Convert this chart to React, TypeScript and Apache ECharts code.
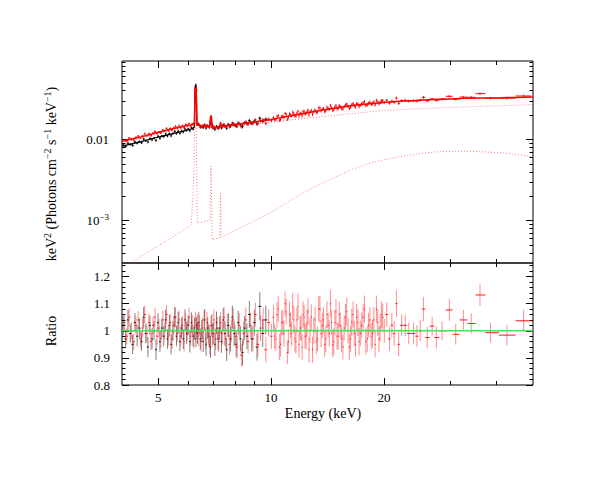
import React, { useEffect, useRef } from 'react';
import * as echarts from 'echarts';

const FONT = 'Liberation Serif';

// ---------- axis ranges & ticks ----------
const energyRange = [4, 50];
const fluxRange = [3e-4, 0.093];
const ratioRange = [0.8, 1.25];

const energyMajorTicks = [5, 10, 20];
const energyMinorTicks = [6, 7, 8, 9, 30, 40];
const energyTickLabels = [5, 10, 20];
const fluxMajorTicks = [0.001, 0.01];
const fluxMinorTicks = [0.0004, 0.0005, 0.0006, 0.0007, 0.0008, 0.0009, 0.002, 0.003, 0.004, 0.005, 0.006, 0.007, 0.008, 0.009, 0.02, 0.03, 0.04, 0.05, 0.06, 0.07, 0.08, 0.09];
const fluxTickLabels = [0.001, 0.01];
const ratioMajorTicks = [0.8, 0.9, 1, 1.1, 1.2];
const ratioMinorTicks = [0.82, 0.84, 0.86, 0.88, 0.92, 0.94, 0.96, 0.98, 1.02, 1.04, 1.06, 1.08, 1.12, 1.14, 1.16, 1.18, 1.22, 1.24];
const ratioTickLabels = [0.8, 0.9, 1, 1.1, 1.2];

// ---------- black spectrum ----------
const blackE = [4.03, 4.09, 4.15, 4.21, 4.27, 4.33, 4.39, 4.45, 4.51, 4.57,
  4.63, 4.69, 4.75, 4.81, 4.87, 4.93, 4.99, 5.05, 5.11, 5.17,
  5.23, 5.29, 5.35, 5.41, 5.47, 5.53, 5.59, 5.65, 5.71, 5.77,
  5.83, 5.89, 5.95, 6.01, 6.07, 6.13, 6.19, 6.25, 6.30, 6.33,
  6.36, 6.41, 6.47, 6.53, 6.59, 6.65, 6.71, 6.77, 6.83, 6.89,
  6.95, 7.01, 7.08, 7.15, 7.22, 7.29, 7.37, 7.45, 7.53, 7.61,
  7.70, 7.79, 7.88, 7.97, 8.07, 8.17, 8.28, 8.39, 8.50, 8.62,
  8.75, 8.88, 9.02, 9.17, 9.33, 9.50, 9.68];
const blackFlux = [0.00854, 0.00825, 0.0090, 0.0087, 0.00848, 0.00934, 0.00903, 0.00945, 0.00912, 0.01013,
  0.00969, 0.00934, 0.01028, 0.00992, 0.01037, 0.00977, 0.01098, 0.01038, 0.01106, 0.01088,
  0.0117, 0.01106, 0.01178, 0.01112, 0.01185, 0.0126, 0.01191, 0.01267, 0.01195, 0.01274,
  0.01238, 0.01344, 0.01294, 0.0135, 0.01284, 0.01395, 0.01343, 0.0160, 0.0475, 0.040,
  0.0155, 0.01545, 0.01426, 0.0146, 0.01402, 0.01518, 0.01387, 0.01475, 0.01431, 0.0165,
  0.0151, 0.01386, 0.01335, 0.01452, 0.01377, 0.01449, 0.01392, 0.01518, 0.01455, 0.01376,
  0.0153, 0.01465, 0.01596, 0.01515, 0.01463, 0.01597, 0.01513, 0.01454, 0.01606, 0.01568,
  0.01707, 0.01581, 0.01689, 0.0156, 0.01831, 0.01673, 0.01778];
const blackRatio = [1.02, 0.97, 1.04, 0.99, 0.95, 1.03, 0.98, 1.01, 0.96, 1.05,
  0.99, 0.94, 1.02, 0.97, 1.00, 0.93, 1.03, 0.96, 1.01, 0.98,
  1.04, 0.97, 1.02, 0.95, 1.00, 1.05, 0.98, 1.03, 0.96, 1.01,
  0.97, 1.04, 0.99, 1.02, 0.96, 1.03, 0.98, 1.01, 0.97, 1.02,
  0.99, 1.03, 0.97, 1.00, 0.96, 1.04, 0.95, 1.01, 0.98, 0.94,
  1.02, 0.99, 0.95, 1.03, 0.97, 1.01, 0.96, 1.04, 0.99, 0.93,
  1.02, 0.97, 1.05, 0.99, 0.95, 1.03, 0.97, 0.92, 1.01, 0.98,
  1.06, 0.97, 1.03, 0.94, 1.09, 0.99, 1.04];
const blackErr = [0.036, 0.035, 0.037, 0.034, 0.036, 0.035, 0.037, 0.036, 0.034, 0.038,
  0.036, 0.037, 0.035, 0.038, 0.036, 0.037, 0.035, 0.038, 0.036, 0.037,
  0.038, 0.036, 0.039, 0.037, 0.036, 0.038, 0.037, 0.039, 0.036, 0.038,
  0.037, 0.039, 0.038, 0.036, 0.040, 0.038, 0.037, 0.039, 0.030, 0.032,
  0.038, 0.040, 0.039, 0.041, 0.038, 0.040, 0.042, 0.039, 0.041, 0.040,
  0.042, 0.040, 0.043, 0.041, 0.042, 0.044, 0.041, 0.043, 0.045, 0.042,
  0.044, 0.046, 0.043, 0.045, 0.047, 0.044, 0.046, 0.048, 0.045, 0.047,
  0.049, 0.046, 0.048, 0.050, 0.052, 0.049, 0.053];

// ---------- red spectrum ----------
const redE = [4.06, 4.12, 4.18, 4.24, 4.30, 4.36, 4.42, 4.48, 4.54, 4.60,
  4.66, 4.72, 4.78, 4.84, 4.90, 4.96, 5.02, 5.08, 5.14, 5.20,
  5.26, 5.32, 5.38, 5.44, 5.50, 5.56, 5.62, 5.68, 5.74, 5.80,
  5.86, 5.92, 5.98, 6.04, 6.10, 6.16, 6.22, 6.28, 6.32, 6.35,
  6.39, 6.44, 6.50, 6.56, 6.62, 6.68, 6.74, 6.80, 6.86, 6.91,
  6.97, 7.04, 7.11, 7.18, 7.25, 7.33, 7.41, 7.49, 7.57, 7.65,
  7.74, 7.83, 7.92, 8.02, 8.12, 8.22, 8.33, 8.44, 8.56, 8.68,
  8.81, 8.94, 9.08, 9.22, 9.37, 9.52, 9.68, 9.85, 10.02,
  10.15, 10.3, 10.45, 10.6, 10.75, 10.9, 11.05, 11.2, 11.35, 11.5,
  11.65, 11.8, 11.95, 12.1, 12.25, 12.4, 12.55, 12.7, 12.9, 13.1,
  13.3, 13.5, 13.7, 13.9, 14.1, 14.3, 14.5, 14.7, 14.9, 15.1,
  15.3, 15.55, 15.8, 16.05, 16.3, 16.55, 16.8, 17.05, 17.3, 17.6,
  17.9, 18.2, 18.5, 18.8, 19.1, 19.4, 19.7,
  20.05, 20.35, 20.7, 21.0, 21.3, 21.6, 21.9, 22.3, 22.8, 23.3,
  24.0, 24.5, 25.0, 25.5, 26.1, 26.9, 27.6, 28.6, 29.9, 31.1,
  32.6, 34.2, 36.1, 38.5, 42.6, 47.2];
const redFlux = [0.00989, 0.00958, 0.01044, 0.0101, 0.00986, 0.01064, 0.01102, 0.01044, 0.01104, 0.01177,
  0.01115, 0.01177, 0.01114, 0.0120, 0.01254, 0.01187, 0.0124, 0.01208, 0.01312, 0.01279,
  0.01374, 0.01287, 0.0137, 0.01308, 0.01392, 0.01451, 0.01386, 0.01474, 0.01405, 0.01481,
  0.01411, 0.01524, 0.0149, 0.01575, 0.0148, 0.0155, 0.0152, 0.040, 0.043, 0.0158,
  0.0157, 0.0151, 0.0141, 0.01475, 0.01518, 0.01416, 0.01504, 0.01445, 0.01406, 0.0194,
  0.0147, 0.01456, 0.01368, 0.01434, 0.01373, 0.0160, 0.01436, 0.01544, 0.01436, 0.0152,
  0.01425, 0.0151, 0.01581, 0.0150, 0.01448, 0.01581, 0.01429, 0.01564, 0.01654, 0.01536,
  0.01652, 0.01581, 0.01749, 0.01577, 0.01697, 0.01758, 0.0159, 0.01782, 0.01725,
  0.01869, 0.01756, 0.01976, 0.01767, 0.01936, 0.02101, 0.01776, 0.02078, 0.0196, 0.0208,
  0.01949, 0.02235, 0.02091, 0.01965, 0.02216, 0.02087, 0.023, 0.0217, 0.02046, 0.02319,
  0.02192, 0.02462, 0.02356, 0.02214, 0.02502, 0.02356, 0.02472, 0.02333, 0.02622, 0.02421,
  0.0254, 0.02369, 0.02667, 0.0257, 0.02512, 0.02777, 0.02508, 0.0274, 0.02653, 0.02846,
  0.0263, 0.02815, 0.02734, 0.02922, 0.03056, 0.02765, 0.03032,
  0.0287, 0.03053, 0.02813, 0.02968, 0.02891, 0.03234, 0.02803, 0.03029, 0.0305, 0.0298,
  0.0300, 0.02979, 0.0306, 0.03316, 0.03013, 0.03163, 0.03052, 0.0315, 0.03414, 0.03149,
  0.03338, 0.03317, 0.03679, 0.03237, 0.03237, 0.03443];
const redRatio = [1.03, 0.98, 1.05, 1.00, 0.96, 1.02, 1.04, 0.97, 1.01, 1.06,
  0.99, 1.03, 0.96, 1.02, 1.05, 0.98, 1.01, 0.97, 1.04, 1.00,
  1.06, 0.98, 1.03, 0.97, 1.02, 1.05, 0.99, 1.04, 0.98, 1.02,
  0.96, 1.03, 1.00, 1.05, 0.98, 1.02, 0.97, 1.04, 1.00, 1.03,
  0.98, 1.02, 0.96, 1.01, 1.04, 0.97, 1.03, 0.99, 0.95, 1.02,
  0.98, 1.04, 0.97, 1.01, 0.96, 1.03, 0.99, 1.05, 0.97, 1.02,
  0.95, 1.00, 1.04, 0.98, 0.94, 1.02, 0.91, 0.99, 1.04, 0.96,
  1.02, 0.97, 1.06, 0.95, 1.01, 1.04, 0.93, 1.03, 0.98,
  1.05, 0.97, 1.08, 0.95, 1.03, 1.10, 0.92, 1.06, 0.99, 1.04,
  0.96, 1.09, 1.01, 0.94, 1.05, 0.98, 1.07, 1.00, 0.93, 1.04,
  0.97, 1.08, 1.02, 0.95, 1.06, 0.99, 1.03, 0.96, 1.07, 0.98,
  1.02, 0.94, 1.05, 1.00, 0.97, 1.06, 0.95, 1.03, 0.99, 1.05,
  0.96, 1.02, 0.98, 1.04, 1.08, 0.97, 1.06,
  1.00, 1.06, 0.97, 1.02, 0.99, 1.10, 0.95, 1.02, 1.02, 0.99,
  0.99, 0.98, 1.00, 1.08, 0.975, 1.017, 0.975, 1.00, 1.077, 0.987,
  1.04, 1.027, 1.132, 0.993, 0.984, 1.037];
const redErr = [0.032, 0.031, 0.033, 0.032, 0.030, 0.033, 0.032, 0.031, 0.034, 0.033,
  0.032, 0.034, 0.031, 0.033, 0.035, 0.032, 0.034, 0.033, 0.035, 0.032,
  0.034, 0.036, 0.033, 0.035, 0.034, 0.036, 0.033, 0.035, 0.037, 0.034,
  0.036, 0.035, 0.037, 0.034, 0.036, 0.038, 0.035, 0.030, 0.028, 0.032,
  0.036, 0.038, 0.037, 0.039, 0.036, 0.038, 0.040, 0.037, 0.039, 0.035,
  0.038, 0.040, 0.039, 0.041, 0.038, 0.040, 0.042, 0.039, 0.041, 0.043,
  0.040, 0.042, 0.044, 0.041, 0.043, 0.045, 0.042, 0.044, 0.046, 0.043,
  0.045, 0.047, 0.044, 0.046, 0.048, 0.045, 0.047, 0.049, 0.046,
  0.046, 0.044, 0.047, 0.045, 0.048, 0.046, 0.044, 0.047, 0.045, 0.048,
  0.046, 0.049, 0.045, 0.047, 0.046, 0.048, 0.050, 0.046, 0.048, 0.047,
  0.045, 0.049, 0.047, 0.046, 0.050, 0.048, 0.046, 0.049, 0.047, 0.050,
  0.048, 0.046, 0.049, 0.047, 0.050, 0.048, 0.046, 0.049, 0.047, 0.050,
  0.048, 0.046, 0.049, 0.047, 0.050, 0.048, 0.049,
  0.045, 0.045, 0.045, 0.045, 0.045, 0.050, 0.045, 0.040, 0.040, 0.040,
  0.040, 0.040, 0.040, 0.045, 0.040, 0.035, 0.040, 0.035, 0.040, 0.038,
  0.037, 0.037, 0.042, 0.036, 0.038, 0.040];

// extra red bins in 10-20 keV (interleaved with the ones above)
const redExtraE = [10.22, 10.37, 10.52, 10.67, 10.82, 10.97, 11.12, 11.27, 11.42, 11.57,
  11.72, 11.87, 12.02, 12.17, 12.32, 12.47, 12.62, 12.8, 13.0, 13.2,
  13.4, 13.6, 13.8, 14.0, 14.2, 14.4, 14.6, 14.8, 15.0, 15.2,
  15.42, 15.67, 15.92, 16.17, 16.42, 16.67, 16.92, 17.17, 17.45, 17.75,
  18.05, 18.35, 18.65, 18.95, 19.25, 19.55, 19.85];
const redExtraFlux = [0.01754, 0.01929, 0.0173, 0.01926, 0.01871, 0.02054, 0.01862, 0.02009, 0.02169, 0.01959,
  0.02122, 0.01957, 0.02091, 0.02226, 0.02078, 0.02204, 0.02009, 0.023, 0.0221, 0.0215,
  0.02452, 0.02267, 0.02413, 0.0227, 0.02417, 0.02629, 0.02299, 0.02513, 0.02411, 0.02629,
  0.02435, 0.02555, 0.02739, 0.02425, 0.02688, 0.02604, 0.02783, 0.02563, 0.02754, 0.02938,
  0.02668, 0.02891, 0.02772, 0.02679, 0.02925, 0.02879, 0.03014];
const redExtraRatio = [0.98, 1.06, 0.94, 1.03, 0.99, 1.07, 0.96, 1.02, 1.09, 0.97,
  1.04, 0.95, 1.01, 1.06, 0.98, 1.03, 0.93, 1.05, 1.00, 0.96,
  1.08, 0.99, 1.04, 0.97, 1.02, 1.10, 0.95, 1.03, 0.98, 1.06,
  0.97, 1.01, 1.07, 0.94, 1.03, 0.99, 1.05, 0.96, 1.02, 1.08,
  0.97, 1.04, 0.99, 0.95, 1.03, 1.01, 1.05];
const redExtraErr = [0.047, 0.046, 0.048, 0.045, 0.049, 0.047, 0.046, 0.048, 0.050, 0.047,
  0.046, 0.049, 0.047, 0.048, 0.046, 0.050, 0.048, 0.047, 0.049, 0.046,
  0.048, 0.050, 0.047, 0.049, 0.046, 0.051, 0.048, 0.047, 0.050, 0.048,
  0.049, 0.047, 0.051, 0.048, 0.050, 0.047, 0.049, 0.051, 0.048, 0.050,
  0.049, 0.047, 0.051, 0.048, 0.050, 0.049, 0.051];

// ---------- model curves ----------
const redModel = [[4.0, 0.0095], [4.5, 0.01078], [5.0, 0.01228], [5.5, 0.01365], [5.9, 0.0147], [6.12, 0.0151],
  [6.24, 0.0158], [6.27, 0.043], [6.31, 0.043], [6.34, 0.0152], [6.6, 0.0146], [6.86, 0.0147], [6.89, 0.0192],
  [6.93, 0.0192], [6.96, 0.0140], [7.2, 0.0142], [7.30, 0.0144], [7.33, 0.0159], [7.36, 0.0145], [7.6, 0.0148],
  [8.0, 0.0153], [9.0, 0.0164], [10, 0.0176], [11, 0.0192], [12, 0.0207], [13.5, 0.0228], [15, 0.0246],
  [16.5, 0.0262], [18, 0.0275], [20, 0.0287], [22, 0.0296], [25, 0.0306], [27, 0.0312], [30, 0.0317],
  [33, 0.0322], [37, 0.0326], [41, 0.0328], [45, 0.0331], [50, 0.0334]];
const blackModel = [[4.0, 0.0083], [4.5, 0.00942], [5.0, 0.01073], [5.5, 0.01193], [5.9, 0.01285], [6.12, 0.0135],
  [6.24, 0.0142], [6.27, 0.046], [6.31, 0.046], [6.34, 0.0150], [6.6, 0.0146], [6.86, 0.0147], [6.89, 0.0175],
  [6.93, 0.0175], [6.96, 0.0140], [7.2, 0.0142], [7.30, 0.0144], [7.33, 0.0157], [7.36, 0.0145], [7.6, 0.0148],
  [8.0, 0.0153], [9.0, 0.0164], [9.8, 0.0174]];
const continuumModel = [[4, 0.0092], [5, 0.0118], [6, 0.0139], [6.96, 0.0142], [6.97, 0.0134], [8, 0.0145],
  [10, 0.0164], [12, 0.0180], [15, 0.0200], [20, 0.0229], [25, 0.0240], [30, 0.0249], [40, 0.0260], [50, 0.0270]];
const reflectionModel = [[4.0, 2.55e-4], [4.5, 3.6e-4], [5.0, 4.9e-4], [5.5, 6.4e-4], [6.0, 8.3e-4], [6.12, 8.9e-4],
  [6.21, 2.9e-3], [6.27, 0.03], [6.30, 0.03], [6.35, 9.3e-4], [6.6, 9.6e-4], [6.87, 1.02e-3], [6.91, 4.7e-3],
  [6.96, 5.8e-4], [7.30, 6.2e-4], [7.33, 2.2e-3], [7.36, 6.3e-4], [7.6, 6.7e-4], [8.0, 7.6e-4], [9.0, 9.8e-4],
  [10, 1.27e-3], [11, 1.65e-3], [12.1, 2.17e-3], [13.5, 2.8e-3], [14.9, 3.47e-3], [16.5, 4.3e-3], [18.25, 5.07e-3],
  [20.2, 5.7e-3], [22.4, 6.23e-3], [25, 6.7e-3], [27.5, 7.04e-3], [30.5, 7.15e-3], [33.7, 7.18e-3], [37, 7.05e-3],
  [41.3, 6.84e-3], [45, 6.55e-3], [48.2, 6.28e-3], [50, 6.15e-3]];
const unityLine = [[4, 1], [50, 1]];

// ---------- helpers ----------
type Bin = { e: number; f: number; r: number; err: number };
function mergeBins(sets: [number[], number[], number[], number[]][]): Bin[] {
  const out: Bin[] = [];
  sets.forEach(([E, F, R, Er]) => E.forEach((e, i) => out.push({ e, f: F[i], r: R[i], err: Er[i] })));
  return out.sort((a, b) => a.e - b.e);
}
function binEdges(E: number[]) {
  return E.map((e, i) => {
    const lo = i === 0 ? e - (E[1] - E[0]) / 2 : (E[i - 1] + e) / 2;
    const hi = i === E.length - 1 ? e + (e - E[i - 1]) / 2 : (e + E[i + 1]) / 2;
    return [lo, hi];
  });
}
function fluxRows(bins: Bin[]) {
  const ed = binEdges(bins.map((b) => b.e));
  return bins.map((b, i) => {
    const rel = b.err / b.r;
    return [b.e, b.f, b.f * (1 - rel), b.f * (1 + rel), ed[i][0], ed[i][1]];
  });
}
function ratioRows(bins: Bin[]) {
  const ed = binEdges(bins.map((b) => b.e));
  return bins.map((b, i) => [b.e, b.r, b.r - b.err, b.r + b.err, ed[i][0], ed[i][1]]);
}
function crossRenderer(color: string, vOpacity: number, hOpacity: number) {
  return (params: any, api: any) => {
    const x = api.value(0), y = api.value(1);
    const a = api.coord([x, api.value(2)]);
    const b = api.coord([x, api.value(3)]);
    const l = api.coord([api.value(4), y]);
    const r = api.coord([api.value(5), y]);
    return {
      type: 'group',
      children: [
        { type: 'line', shape: { x1: a[0], y1: a[1], x2: b[0], y2: b[1] }, style: { stroke: color, lineWidth: 1, opacity: vOpacity } },
        { type: 'line', shape: { x1: l[0], y1: l[1], x2: r[0], y2: r[1] }, style: { stroke: color, lineWidth: 1, opacity: hOpacity } },
      ],
    };
  };
}

const tickLine = { color: '#000', width: 1 };
function energyAxis(gridIndex: number, position: string, ticks: number[], length: number, labels?: number[]) {
  return {
    type: 'log', logBase: 10, gridIndex, position, min: energyRange[0], max: energyRange[1],
    axisLine: { show: false },
    axisTick: { show: true, inside: true, length, customValues: ticks, lineStyle: tickLine },
    axisLabel: labels
      ? { show: true, customValues: labels, margin: 6, color: '#000', fontFamily: FONT, fontSize: 13, formatter: (v: number) => String(Math.round(v)) }
      : { show: false },
    splitLine: { show: false }, minorTick: { show: false }, minorSplitLine: { show: false },
  };
}
function fluxAxis(position: string, ticks: number[], length: number, labels?: number[]) {
  return {
    type: 'log', logBase: 10, gridIndex: 0, position, min: fluxRange[0], max: fluxRange[1],
    axisLine: { show: false },
    axisTick: { show: true, inside: true, length, customValues: ticks, lineStyle: tickLine },
    axisLabel: labels
      ? {
        show: true, customValues: labels, margin: 13, color: '#000', fontFamily: FONT, fontSize: 13, lineHeight: 17,
        formatter: (v: number) => (v > 0.005 ? '0.01' : '10{sup|−3}'),
        rich: { sup: { fontSize: 9, lineHeight: 9, verticalAlign: 'top', fontFamily: FONT, color: '#000' } },
      }
      : { show: false },
    splitLine: { show: false }, minorTick: { show: false }, minorSplitLine: { show: false },
  };
}
function ratioAxis(position: string, ticks: number[], length: number, labels?: number[]) {
  return {
    type: 'value', gridIndex: 1, position, min: ratioRange[0], max: ratioRange[1],
    axisLine: { show: false },
    axisTick: { show: true, inside: true, length, customValues: ticks, lineStyle: tickLine },
    axisLabel: labels
      ? { show: true, customValues: labels, margin: 12, color: '#000', fontFamily: FONT, fontSize: 13, formatter: (v: number) => String(Math.round(v * 10) / 10) }
      : { show: false },
    splitLine: { show: false }, minorTick: { show: false }, minorSplitLine: { show: false },
  };
}

export default function App() {
  const ref = useRef<HTMLDivElement>(null);
  useEffect(() => {
    if (!ref.current) return;
    const chart = echarts.init(ref.current, null, { renderer: 'svg' });
    const blackBins = mergeBins([[blackE, blackFlux, blackRatio, blackErr]]);
    const redBins = mergeBins([[redE, redFlux, redRatio, redErr], [redExtraE, redExtraFlux, redExtraRatio, redExtraErr]]);
    const option: any = {
      animation: false,
      backgroundColor: '#fff',
      textStyle: { fontFamily: FONT },
      grid: [
        { left: 122, top: 61, width: 411, height: 202, show: true, borderColor: '#000', borderWidth: 1, backgroundColor: 'transparent', outerBoundsMode: 'none' },
        { left: 122, top: 263, width: 411, height: 122, show: true, borderColor: '#000', borderWidth: 1, backgroundColor: 'transparent', outerBoundsMode: 'none' },
      ],
      xAxis: [
        energyAxis(0, 'bottom', energyMajorTicks, 7),
        energyAxis(0, 'bottom', energyMinorTicks, 4),
        energyAxis(0, 'top', energyMajorTicks, 7),
        energyAxis(0, 'top', energyMinorTicks, 4),
        energyAxis(1, 'bottom', energyMajorTicks, 7, energyTickLabels),
        energyAxis(1, 'bottom', energyMinorTicks, 4),
        energyAxis(1, 'top', energyMajorTicks, 7),
        energyAxis(1, 'top', energyMinorTicks, 4),
      ],
      yAxis: [
        fluxAxis('left', fluxMajorTicks, 7, fluxTickLabels),
        fluxAxis('left', fluxMinorTicks, 3.5),
        fluxAxis('right', fluxMajorTicks, 7),
        fluxAxis('right', fluxMinorTicks, 3.5),
        ratioAxis('left', ratioMajorTicks, 7, ratioTickLabels),
        ratioAxis('left', ratioMinorTicks, 3.5),
        ratioAxis('right', ratioMajorTicks, 7),
        ratioAxis('right', ratioMinorTicks, 3.5),
      ],
      series: [
        {
          type: 'line', xAxisIndex: 0, yAxisIndex: 0, data: reflectionModel, showSymbol: false, symbol: 'none', silent: true,
          lineStyle: { color: '#ff0000', width: 1, type: [1, 2], opacity: 0.5 }, z: 2,
        },
        {
          type: 'line', xAxisIndex: 0, yAxisIndex: 0, data: continuumModel, showSymbol: false, symbol: 'none', silent: true,
          lineStyle: { color: '#ff0000', width: 1, type: [1, 2], opacity: 0.5 }, z: 2,
        },
        {
          type: 'custom', xAxisIndex: 0, yAxisIndex: 0, clip: true, silent: true, z: 3,
          data: fluxRows(blackBins),
          renderItem: crossRenderer('#000000', 0.9, 1),
        },
        {
          type: 'line', xAxisIndex: 0, yAxisIndex: 0, data: blackModel, showSymbol: false, symbol: 'none', silent: true,
          lineStyle: { color: '#000000', width: 1.2 }, z: 4,
        },
        {
          type: 'custom', xAxisIndex: 0, yAxisIndex: 0, clip: true, silent: true, z: 5,
          data: fluxRows(redBins),
          renderItem: crossRenderer('#ff0000', 0.85, 1),
        },
        {
          type: 'line', xAxisIndex: 0, yAxisIndex: 0, data: redModel, showSymbol: false, symbol: 'none', silent: true,
          lineStyle: { color: '#ff0000', width: 1.5 }, z: 6,
        },
        {
          type: 'custom', xAxisIndex: 4, yAxisIndex: 4, clip: true, silent: true, z: 3,
          data: ratioRows(blackBins),
          renderItem: crossRenderer('#000000', 0.5, 0.9),
        },
        {
          type: 'custom', xAxisIndex: 4, yAxisIndex: 4, clip: true, silent: true, z: 4,
          data: ratioRows(redBins),
          renderItem: crossRenderer('#ff0000', 0.45, 0.9),
        },
        {
          type: 'line', xAxisIndex: 4, yAxisIndex: 4, data: unityLine, showSymbol: false, symbol: 'none', silent: true,
          lineStyle: { color: '#4fdf4f', width: 1.6 }, z: 6,
        },
      ],
      graphic: [
        {
          type: 'text', x: 51, y: 174, rotation: Math.PI / 2,
          style: {
            text: 'keV{sup|2} (Photons cm{sup|−2} s{sup|−1} keV{sup|−1})',
            font: '14px "Liberation Serif"', fill: '#000', align: 'center', verticalAlign: 'middle', lineHeight: 18,
            rich: { sup: { fontSize: 10, lineHeight: 10, verticalAlign: 'top', fontFamily: 'Liberation Serif', fill: '#000' } },
          },
        },
        {
          type: 'text', x: 51, y: 331, rotation: Math.PI / 2,
          style: { text: 'Ratio', font: '14px "Liberation Serif"', fill: '#000', align: 'center', verticalAlign: 'middle' },
        },
        {
          type: 'text', x: 323, y: 413,
          style: { text: 'Energy (keV)', font: '14px "Liberation Serif"', fill: '#000', align: 'center', verticalAlign: 'middle' },
        },
      ],
    };
    chart.setOption(option);
    return () => chart.dispose();
  }, []);
  return <div ref={ref} style={{ position: 'absolute', left: 0, top: 0, width: 599, height: 491, background: '#fff' }} />;
}
